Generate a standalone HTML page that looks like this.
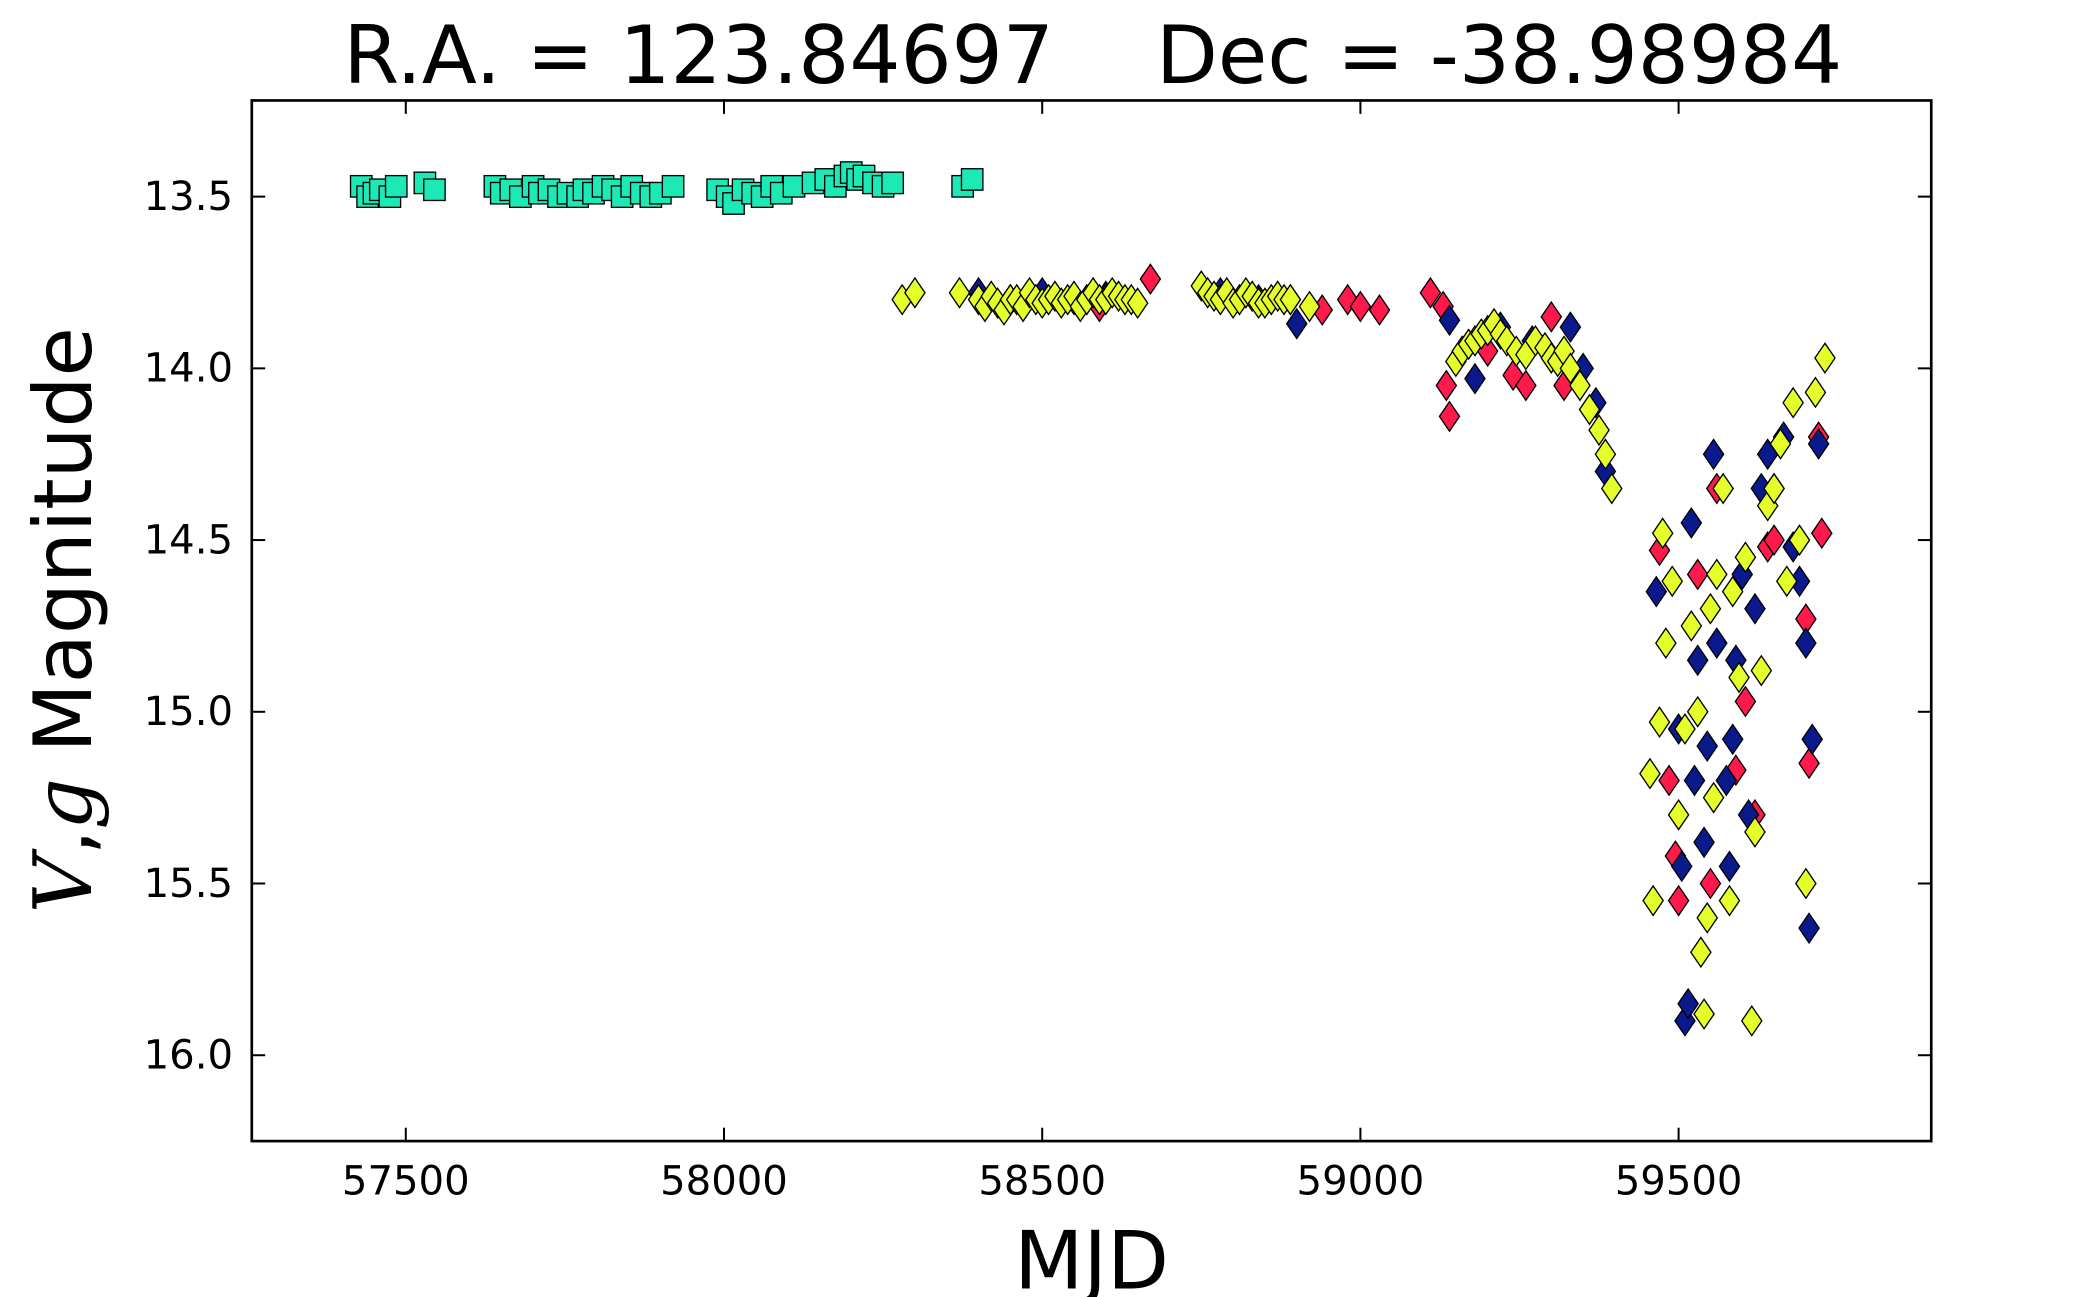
<!DOCTYPE html>
<html><head><meta charset="utf-8"><style>
html,body{margin:0;padding:0;background:#fff;overflow:hidden;}
svg{display:block;font-family:"DejaVu Sans","Liberation Sans",sans-serif;}
</style></head><body>
<svg id="chart" width="2100" height="1297" viewBox="0 0 1568 968.4" xmlns="http://www.w3.org/2000/svg">
<rect x="0" y="0" width="1568" height="969" fill="#fff"/>
<text x="816" y="62" font-size="60" text-anchor="middle" xml:space="preserve">R.A. = 123.84697    Dec = -38.98984</text>
<g id="marks"></g>
<g id="axes"></g>
<rect x="188" y="75" width="1254" height="777" fill="none" stroke="#000" stroke-width="2"/>
<text x="815" y="962" font-size="60" text-anchor="middle">MJD</text>
<text transform="translate(68,463) rotate(-90)" font-size="60" text-anchor="middle"><tspan font-style="italic" font-family="'DejaVu Serif','Liberation Serif',serif">V</tspan>,<tspan font-style="italic" font-family="'DejaVu Serif','Liberation Serif',serif">g</tspan> Magnitude</text>
</svg>
<script>
const xTicks = [57500, 58000, 58500, 59000, 59500];
const yTicks = [13.5, 14.0, 14.5, 15.0, 15.5, 16.0];
const yTickLabels = ["13.5", "14.0", "14.5", "15.0", "15.5", "16.0"];
const asasV = [[57430,13.47],[57440,13.5],[57450,13.49],[57460,13.48],[57475,13.5],[57485,13.47],[57530,13.46],[57545,13.48],[57640,13.47],[57650,13.49],[57665,13.48],[57680,13.5],[57700,13.47],[57710,13.49],[57725,13.48],[57740,13.5],[57755,13.49],[57770,13.5],[57780,13.48],[57795,13.49],[57810,13.47],[57825,13.48],[57840,13.5],[57855,13.47],[57870,13.49],[57885,13.5],[57900,13.49],[57920,13.47],[57990,13.48],[58005,13.5],[58015,13.52],[58030,13.48],[58045,13.49],[58060,13.5],[58075,13.47],[58090,13.49],[58110,13.47],[58140,13.46],[58160,13.45],[58175,13.47],[58190,13.44],[58200,13.43],[58210,13.45],[58220,13.44],[58235,13.46],[58250,13.47],[58265,13.46],[58375,13.47],[58390,13.45]];
const yellowG = [[58280,13.8],[58300,13.78],[58370,13.78],[58400,13.8],[58410,13.82],[58420,13.79],[58430,13.81],[58440,13.83],[58450,13.8],[58460,13.8],[58470,13.82],[58480,13.78],[58490,13.8],[58500,13.81],[58510,13.8],[58520,13.79],[58530,13.81],[58540,13.8],[58550,13.79],[58560,13.82],[58570,13.8],[58580,13.78],[58590,13.8],[58600,13.8],[58610,13.78],[58620,13.79],[58630,13.8],[58640,13.8],[58650,13.81],[58750,13.76],[58760,13.78],[58770,13.79],[58780,13.8],[58790,13.78],[58800,13.81],[58810,13.8],[58820,13.78],[58830,13.79],[58840,13.81],[58850,13.81],[58860,13.8],[58870,13.79],[58880,13.8],[58890,13.8],[58920,13.82],[59150,13.98],[59160,13.95],[59170,13.93],[59180,13.92],[59190,13.9],[59200,13.89],[59210,13.87],[59220,13.9],[59230,13.92],[59245,13.95],[59260,13.96],[59275,13.92],[59290,13.94],[59300,13.97],[59310,13.98],[59320,13.95],[59330,14.0],[59345,14.05],[59360,14.12],[59375,14.18],[59385,14.25],[59395,14.35],[59455,15.18],[59460,15.55],[59470,15.03],[59480,14.8],[59475,14.48],[59490,14.62],[59500,15.3],[59510,15.05],[59520,14.75],[59530,15.0],[59535,15.7],[59540,15.88],[59545,15.6],[59550,14.7],[59555,15.25],[59560,14.6],[59570,14.35],[59580,15.55],[59585,14.65],[59595,14.9],[59605,14.55],[59615,15.9],[59620,15.35],[59630,14.88],[59640,14.4],[59650,14.35],[59660,14.22],[59670,14.62],[59680,14.1],[59690,14.5],[59700,15.5],[59715,14.07],[59730,13.97]];
const blueG = [[58400,13.78],[58450,13.8],[58500,13.78],[58550,13.8],[58600,13.79],[58780,13.78],[58840,13.8],[58900,13.87],[59140,13.86],[59180,14.03],[59220,13.88],[59270,13.92],[59330,13.88],[59350,14.0],[59370,14.1],[59385,14.3],[59465,14.65],[59500,15.05],[59505,15.45],[59510,15.9],[59515,15.85],[59520,14.45],[59525,15.2],[59530,14.85],[59540,15.38],[59545,15.1],[59555,14.25],[59560,14.8],[59575,15.2],[59580,15.45],[59585,15.08],[59590,14.85],[59600,14.6],[59610,15.3],[59620,14.7],[59630,14.35],[59640,14.25],[59650,14.35],[59665,14.2],[59680,14.52],[59690,14.62],[59700,14.8],[59705,15.63],[59710,15.08],[59720,14.22]];
const redG = [[58590,13.82],[58670,13.74],[58890,13.8],[58940,13.83],[58980,13.8],[59000,13.82],[59030,13.83],[59110,13.78],[59130,13.82],[59135,14.05],[59140,14.14],[59200,13.95],[59240,14.02],[59260,14.05],[59300,13.85],[59320,14.05],[59470,14.53],[59485,15.2],[59495,15.42],[59500,15.55],[59530,14.6],[59550,15.5],[59560,14.35],[59590,15.17],[59605,14.97],[59620,15.3],[59640,14.52],[59650,14.5],[59700,14.73],[59705,15.15],[59720,14.2],[59725,14.48]];

const NS='http://www.w3.org/2000/svg';
const L=188,R=1442,T=75,B=852;
const xMin=57258,xMax=59897,yMin=13.22,yMax=16.25;
function X(v){return L+(v-xMin)/(xMax-xMin)*(R-L);}
function Y(v){return T+(v-yMin)/(yMax-yMin)*(B-T);}
function el(tag,attrs,parent){const e=document.createElementNS(NS,tag);for(const k in attrs)e.setAttribute(k,attrs[k]);parent.appendChild(e);return e;}
const axes=document.getElementById('axes'),marks=document.getElementById('marks');
xTicks.forEach(v=>{
  const x=X(v);
  const t1=el('line',{x1:x,x2:x,y1:B,y2:B-10,stroke:'#000','stroke-width':1.5},axes);
  
  
  el('line',{x1:x,x2:x,y1:T,y2:T+10,stroke:'#000','stroke-width':1.5},axes);
  const tx=el('text',{x:x,y:B+40,'font-size':30,'text-anchor':'middle'},axes);
  tx.textContent=String(v);
  
  
});
yTicks.forEach((v,i)=>{
  const y=Y(v);
  const t1=el('line',{x1:L,x2:L+10,y1:y,y2:y,stroke:'#000','stroke-width':1.5},axes);
  
  
  el('line',{x1:R,x2:R-10,y1:y,y2:y,stroke:'#000','stroke-width':1.5},axes);
  const tx=el('text',{x:L-14,y:y+10,'font-size':30,'text-anchor':'end'},axes);
  tx.textContent=yTickLabels[i];
  
  
});
function errbar(x,y,e){
  const y1=Y(y-e),y2=Y(y+e);
  el('line',{x1:x,x2:x,y1:y1,y2:y2,stroke:'#000','stroke-width':1.2},marks);
  el('line',{x1:x-6,x2:x+6,y1:y1,y2:y1,stroke:'#000','stroke-width':1.2},marks);
  el('line',{x1:x-6,x2:x+6,y1:y2,y2:y2,stroke:'#000','stroke-width':1.2},marks);
}
function drawSquares(data,color,name){
  data.forEach(d=>{const x=X(d[0]),y=Y(d[1]);
    errbar(x,y,0.02);
    const r=el('rect',{x:x-8,y:y-8,width:16,height:16,fill:color,stroke:'#000','stroke-width':1},marks);
    
    
  });
}
function drawDiamonds(data,color,name){
  data.forEach(d=>{const x=X(d[0]),y=Y(d[1]);
    errbar(x,y,d[1]>14.4?0.07:0.025);
    const p=el('polygon',{points:`${x},${y-11} ${x+7.5},${y} ${x},${y+11} ${x-7.5},${y}`,fill:color,stroke:'#000','stroke-width':1},marks);
    
    
  });
}
drawSquares(asasV,'#1de9b6','asas-sn-v-point');
drawDiamonds(redG,'#ff1a4b','red-g-point');
drawDiamonds(blueG,'#0a1a8c','blue-g-point');
drawDiamonds(yellowG,'#e4ff2a','yellow-g-point');
</script>
</body></html>
